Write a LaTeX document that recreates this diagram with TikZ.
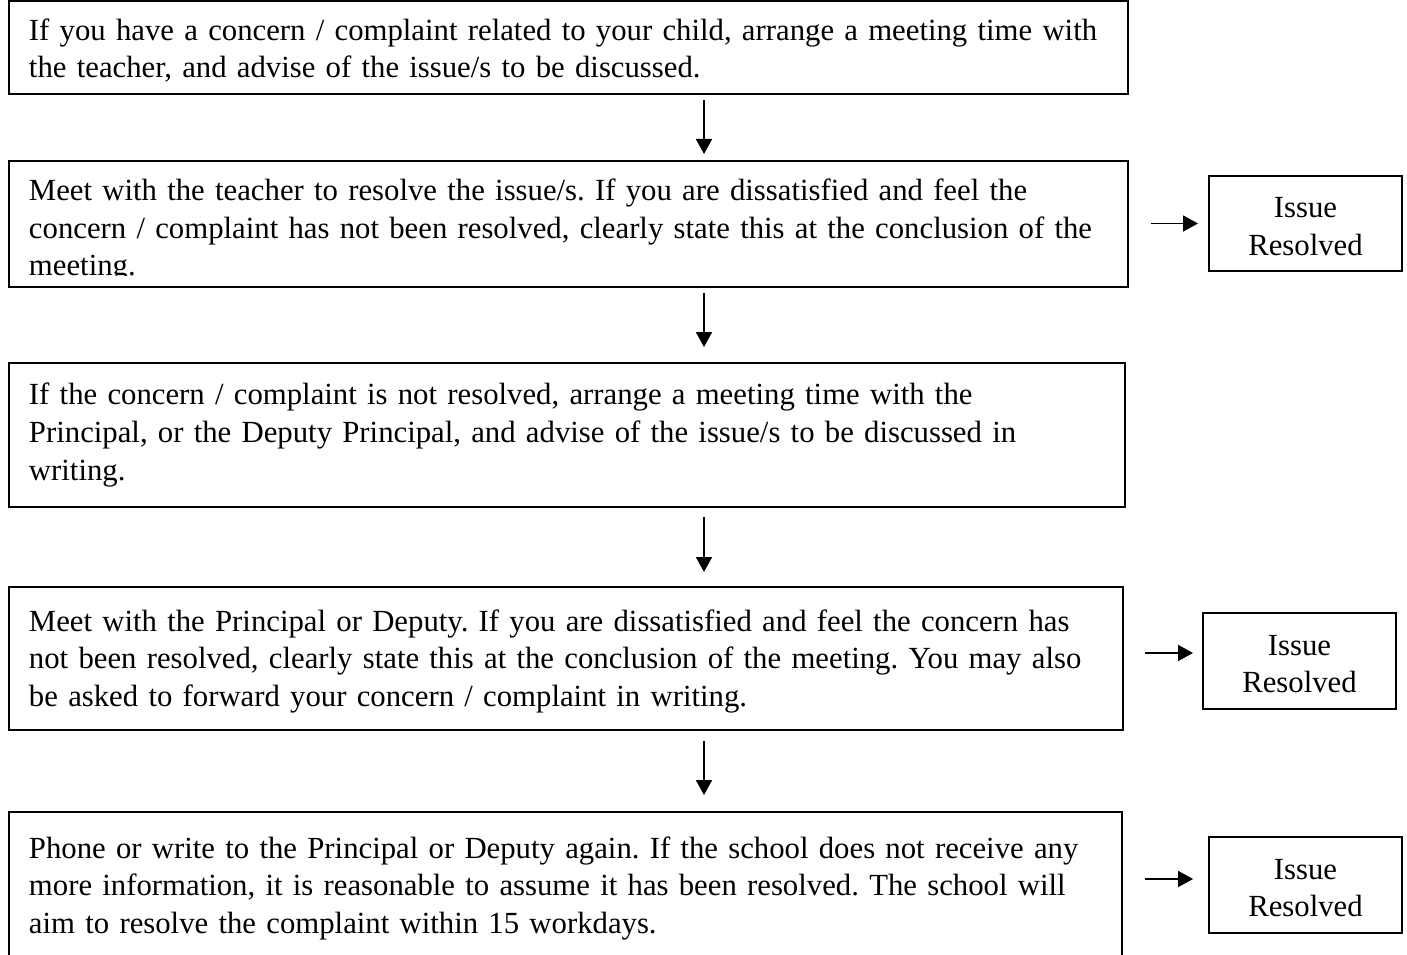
\documentclass[tikz,border=0pt]{standalone}
\usepackage{fontspec}
\setmainfont{Liberation Serif}
\frenchspacing
\usetikzlibrary{arrows.meta}
% pushes the first line of a box down a little
\newcommand\droptext[1]{\rule{0pt}{\dimexpr 12pt+#1\relax}}
\tikzset{
	stepbox/.style={draw, line width=1.1pt, anchor=north west, outer sep=0pt, inner xsep=0.4cm, inner ysep=0pt, align=left, font=\fontsize{17.5pt}{21.4pt}\selectfont},
	donebox/.style={draw, line width=1pt, anchor=north west, outer sep=0pt, inner sep=0pt, minimum width=3.86cm, align=center, font=\fontsize{17.5pt}{21.4pt}\selectfont},
	flow/.style={line width=1pt, -{Triangle[width=0.32cm,length=0.3cm]}}
}

\begin{document}
\begin{tikzpicture}[x=0.02cm, y=-0.02cm]
			%%%%% START %%%%%
			\useasboundingbox (0, 0) rectangle (1407, 955);
			\clip (0, 0) rectangle (1407, 955);
			
			\node[stepbox, text width=21.58cm, minimum height=1.86cm] (s1) at (9, 1) {\droptext{4pt}If you have a concern / complaint related to your child, arrange a meeting time with\\the teacher, and advise of the issue/s to be discussed.};
			
			% text runs out of the box at the bottom
			\begin{scope}
				\clip (0, 150) rectangle (1407, 276);
				\node[stepbox, text width=21.58cm, minimum height=2.52cm] (s2) at (9, 161) {\droptext{8pt}Meet with the teacher to resolve the issue/s. If you are dissatisfied and feel the\\concern / complaint has not been resolved, clearly state this at the conclusion of the\\meeting.};
			\end{scope}
			\draw[line width=1.1pt] (s2.south west) rectangle (s2.north east);
			
			\node[stepbox, text width=21.52cm, minimum height=2.88cm] (s3) at (9, 363) {If the concern / complaint is not resolved, arrange a meeting time with the\\Principal, or the Deputy Principal, and advise of the issue/s to be discussed in\\writing.};
			
			\node[stepbox, text width=21.48cm, minimum height=2.86cm] (s4) at (9, 587) {\droptext{3.4pt}Meet with the Principal or Deputy. If you are dissatisfied and feel the concern has\\not been resolved, clearly state this at the conclusion of the meeting. You may also\\be asked to forward your concern / complaint in writing.};
			
			\node[stepbox, text width=21.46cm, minimum height=3.06cm] (s5) at (9, 812) {Phone or write to the Principal or Deputy again. If the school does not receive any\\more information, it is reasonable to assume it has been resolved. The school will\\aim to resolve the complaint within 15 workdays.};
			
			\node[donebox, minimum height=1.9cm] (iA) at (1209, 176) {\droptext{3pt}Issue\\Resolved};
			\node[donebox, minimum height=1.92cm] (iB) at (1203, 613) {\droptext{3pt}Issue\\Resolved};
			\node[donebox, minimum height=1.92cm] (iC) at (1209, 837) {\droptext{3pt}Issue\\Resolved};
			
			% down the middle
			\coordinate (spine) at (704, 0);
			\draw[flow, shorten <=0.12cm, shorten >=0.14cm] (s1.south -| spine) -- (s2.north -| spine);
			\draw[flow, shorten <=0.12cm, shorten >=0.32cm] (s2.south -| spine) -- (s3.north -| spine);
			\draw[flow, shorten <=0.2cm, shorten >=0.3cm] (s3.south -| spine) -- (s4.north -| spine);
			\draw[flow, shorten <=0.22cm, shorten >=0.34cm] (s4.south -| spine) -- (s5.north -| spine);
			
			% out to the right
			\coordinate (armB) at ([yshift=0.16cm]iB.west);
			\coordinate (armC) at ([yshift=0.12cm]iC.west);
			\draw[flow, shorten <=0.46cm, shorten >=0.22cm] (iA.west -| s2.east) -- (iA.west);
			\draw[flow, shorten <=0.44cm, shorten >=0.2cm] (armB -| s4.east) -- (armB);
			\draw[flow, shorten <=0.46cm, shorten >=0.32cm] (armC -| s5.east) -- (armC);
			%%%%% END %%%%%
\end{tikzpicture}
\end{document}
